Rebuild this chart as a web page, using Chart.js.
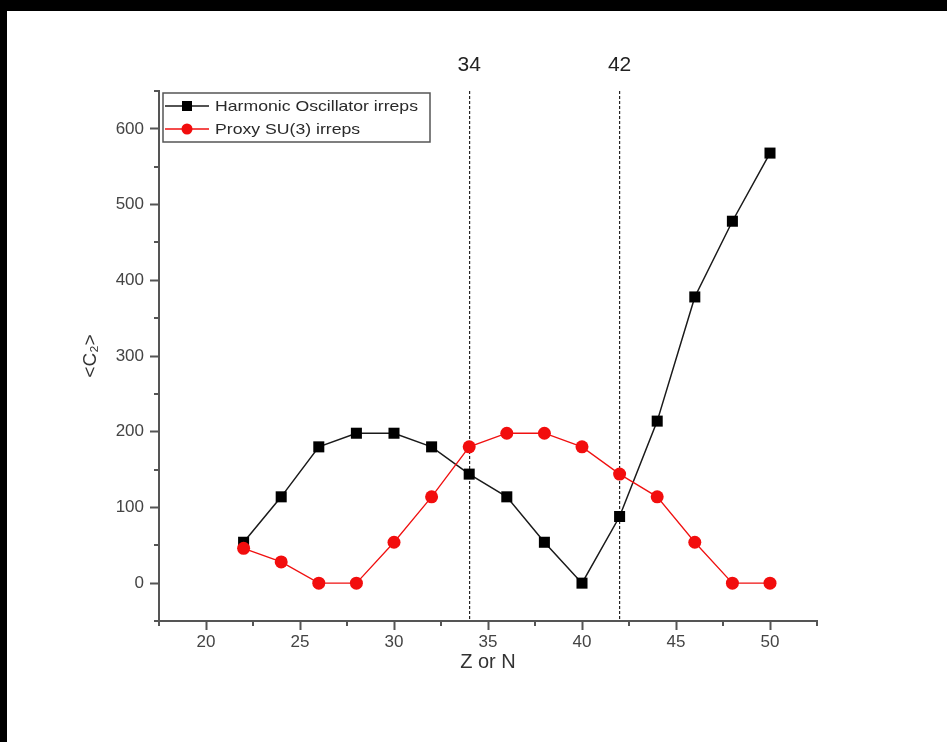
<!DOCTYPE html>
<html>
<head>
<meta charset="utf-8">
<script src="https://cdn.jsdelivr.net/npm/chart.js@4/dist/chart.umd.min.js"></script>
<style>
  html, body { margin: 0; padding: 0; background: #000; }
  #wrap { position: absolute; left: 7px; top: 11px; width: 940px; height: 731px; background: #fff; }
</style>
</head>
<body>
<div id="wrap"><canvas id="chart-canvas" width="940" height="731"></canvas></div>
<script>
// nucleon number and <C2> of the two irreps
const zValues = [22, 24, 26, 28, 30, 32, 34, 36, 38, 40, 42, 44, 46, 48, 50]
const hoC2 = [54, 114, 180, 198, 198, 180, 144, 114, 54, 0, 88, 214, 378, 478, 568]
const proxyC2 = [46, 28, 0, 0, 54, 114, 180, 198, 198, 180, 144, 114, 54, 0, 0]

const seriesNames = ['Harmonic Oscillator irreps', 'Proxy SU(3) irreps']
const xTicks = [20, 25, 30, 35, 40, 45, 50]
const yTicks = [0, 100, 200, 300, 400, 500, 600]
const markerTicks = [34, 42]
const xRange = [17.5, 52.5]
const yRange = [-50, 650]

const font = '"Liberation Sans", Arial, sans-serif'
const axisGray = '#555'

const toPoints = (vals) => zValues.map((z, i) => ({ x: z, y: vals[i] }))
const setTicks = (list) => (scale) => { scale.ticks = list.map((v) => ({ value: v })) }

// short ticks half way between the labelled ones
const minorTicks = {
    id: 'minorTicks',
    afterDraw(chart) {
        const { ctx, scales: { x, y }, chartArea } = chart
        ctx.save()
        ctx.strokeStyle = axisGray
        ctx.lineWidth = 2
        ctx.beginPath()
        for (let v = xRange[0]; v <= xRange[1] + 0.01; v += 5) {
            const px = Math.round(x.getPixelForValue(v))
            ctx.moveTo(px, chartArea.bottom)
            ctx.lineTo(px, chartArea.bottom + 5)
        }
        for (let v = yRange[0]; v <= yRange[1] + 0.01; v += 100) {
            const py = Math.round(y.getPixelForValue(v))
            ctx.moveTo(chartArea.left, py)
            ctx.lineTo(chartArea.left - 5, py)
        }
        ctx.stroke()
        ctx.restore()
    }
}

// boxed legend inside the plot, top left
const boxLegend = {
    id: 'boxLegend',
    afterDraw(chart) {
        const { ctx, chartArea } = chart
        const x0 = chartArea.left + 4, y0 = chartArea.top + 2
        const w = 267, h = 49
        ctx.save()
        ctx.fillStyle = '#fff'
        ctx.fillRect(x0, y0, w, h)
        ctx.strokeStyle = axisGray
        ctx.lineWidth = 1.5
        ctx.strokeRect(x0, y0, w, h)
        ctx.font = '15px ' + font
        // the original legend text is drawn a bit wide
        const stretch = 203 / ctx.measureText(seriesNames[0]).width
        chart.data.datasets.forEach((ds, i) => {
            const cy = y0 + 13 + i * 23
            ctx.strokeStyle = ds.borderColor
            ctx.lineWidth = ds.borderWidth
            ctx.beginPath()
            ctx.moveTo(x0 + 2, cy)
            ctx.lineTo(x0 + 46, cy)
            ctx.stroke()
            ctx.fillStyle = ds.pointBackgroundColor
            if (ds.pointStyle === 'rect') {
                ctx.fillRect(x0 + 24 - 5, cy - 5, 10, 10)
            } else {
                ctx.beginPath()
                ctx.arc(x0 + 24, cy, 5.5, 0, Math.PI * 2)
                ctx.fill()
            }
            ctx.save()
            ctx.translate(x0 + 52, cy + 1)
            ctx.scale(stretch, 1)
            ctx.fillStyle = '#2a2a2a'
            ctx.textBaseline = 'middle'
            ctx.fillText(ds.label, 0, 0)
            ctx.restore()
        })
        ctx.restore()
    }
}

const ctx = document.getElementById('chart-canvas')
new Chart(ctx, {
    type: 'scatter',
    data: {
        datasets: [{
            label: seriesNames[0],
            data: toPoints(hoC2),
            showLine: true,
            borderColor: '#1a1a1a',
            borderWidth: 1.5,
            pointStyle: 'rect',
            pointRadius: 7.8,
            pointBorderWidth: 0,
            pointBackgroundColor: '#000',
            order: 1
        },
        {
            label: seriesNames[1],
            data: toPoints(proxyC2),
            showLine: true,
            borderColor: '#f01010',
            borderWidth: 1.3,
            pointStyle: 'circle',
            pointRadius: 6.5,
            pointBorderWidth: 0,
            pointBackgroundColor: '#f20d0d',
            order: 0
        }]
    },
    options: {
        responsive: false,
        animation: false,
        devicePixelRatio: 1,
        layout: { padding: { left: 0, right: 130, top: 0, bottom: 0 } },
        plugins: { legend: { display: false }, tooltip: { enabled: false } },
        scales: {
            x: {
                type: 'linear',
                position: 'bottom',
                min: xRange[0],
                max: xRange[1],
                afterBuildTicks: setTicks(xTicks),
                afterFit: (s) => { s.height = 121 },
                border: { color: axisGray, width: 2 },
                grid: { drawOnChartArea: false, tickLength: 9, tickColor: axisGray, tickWidth: 2 },
                ticks: { font: { size: 17, family: font }, color: '#444', padding: 2, maxRotation: 0, autoSkip: false },
                title: { display: true, text: 'Z or N', font: { size: 20, family: font }, color: '#333', padding: { top: 0, bottom: 68 } }
            },
            y: {
                type: 'linear',
                position: 'left',
                min: yRange[0],
                max: yRange[1],
                afterBuildTicks: setTicks(yTicks),
                afterFit: (s) => { s.width = 152 },
                border: { color: axisGray, width: 2 },
                grid: { drawOnChartArea: false, tickLength: 9, tickColor: axisGray, tickWidth: 2 },
                ticks: { font: { size: 17, family: font }, color: '#444', padding: 6, autoSkip: false },
                title: { display: true, text: '<C₂>', font: { size: 19, family: font }, color: '#333', padding: { top: 72, bottom: 0 } }
            },
            x2: {
                type: 'linear',
                position: 'top',
                min: xRange[0],
                max: xRange[1],
                afterBuildTicks: setTicks(markerTicks),
                afterFit: (s) => { s.height = 80 },
                border: { display: false, dash: [3, 2] },
                grid: { drawTicks: false, drawOnChartArea: true, color: '#222', lineWidth: 1.2 },
                ticks: { font: { size: 21, family: font }, color: '#222', padding: 13, maxRotation: 0, autoSkip: false }
            }
        }
    },
    plugins: [minorTicks, boxLegend]
})
</script>
</body>
</html>
